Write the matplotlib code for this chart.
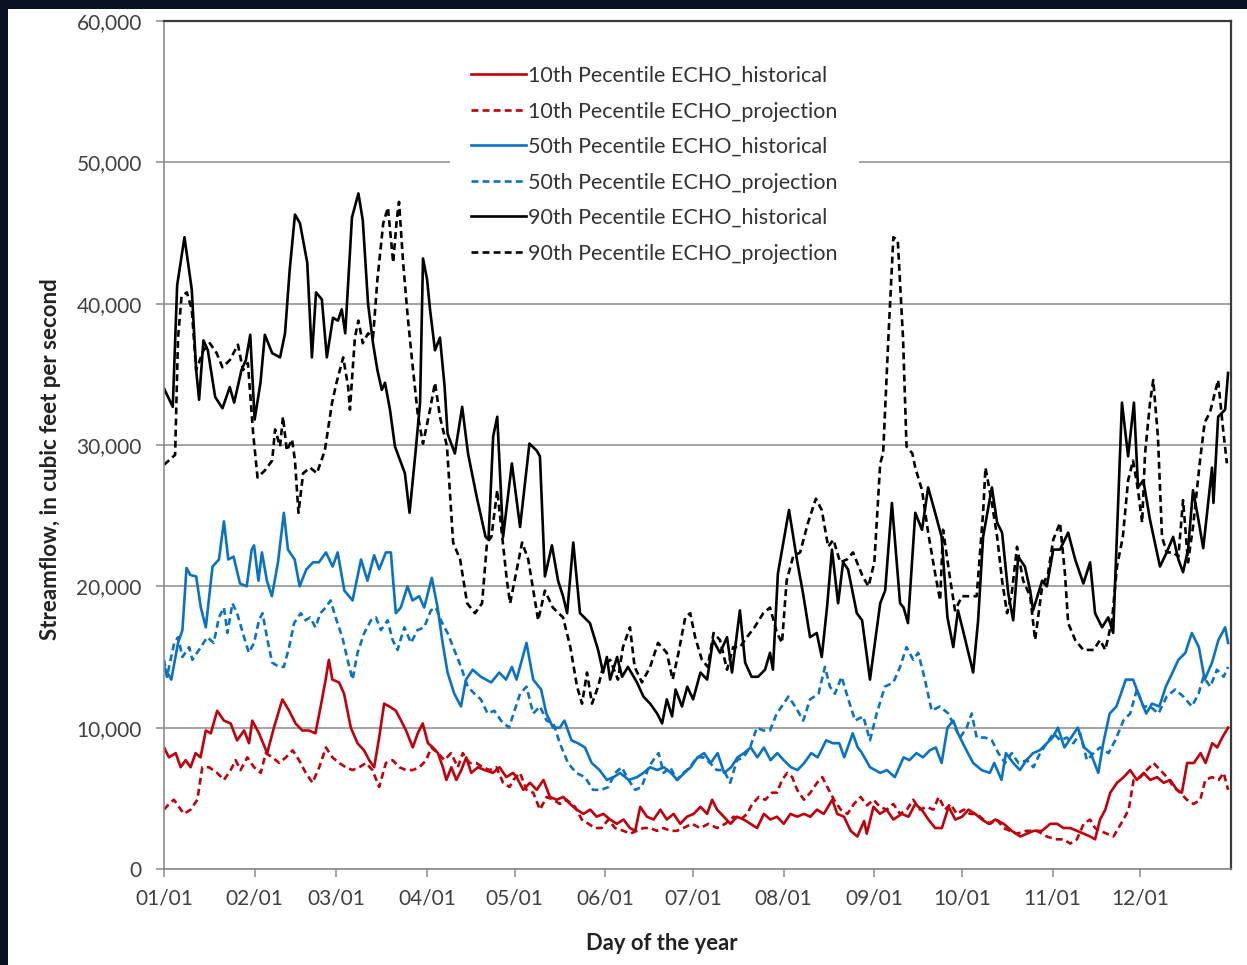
import matplotlib
matplotlib.use("Agg")
import matplotlib.pyplot as plt
from matplotlib.patches import Rectangle
import numpy as np

# Daily streamflow percentiles, ECHO gauge (values in thousand cfs, day 0 = Jan 1)
p10_hist_day = [0, 1.7, 4, 5.7, 7.4, 9.1, 10.8, 12.5, 14.3, 16, 18.2, 20.5, 22.8, 25, 27.4, 29.1, 30.2, 32.5, 35.3, 37.6,
                40.5, 42.8, 45, 47.3, 49.6, 51.8, 53.6, 55.3, 56.4, 57.6, 59.9, 61.6, 63.9, 66.2, 68.4, 70.2, 71.9, 73.6, 75.3, 77.1,
                79.3, 81.1, 82.8, 85.1, 86.8, 88.5, 90.3, 92, 93.7, 95.4, 96.6, 98.3, 100, 101.7, 103.4, 105.1, 107.4, 109.7, 112.5, 114.8,
                117.1, 119.4, 120.6, 122.9, 125.2, 127.5, 129.8, 132, 134.3, 136.6, 138.9, 141.2, 143.5, 145.8, 148, 150.3, 152.6, 154.9, 157.2, 159.4,
                161.2, 162.9, 165.2, 167.5, 169.8, 172, 174.3, 176.6, 178.9, 181.2, 183.5, 185.8, 187.5, 189.2, 191.5, 193.8, 196, 198.3, 200.6, 202.9,
                205.2, 207.4, 209.7, 212, 214.3, 216.6, 218.9, 221.1, 223.4, 225.7, 228.6, 230.3, 232.6, 234.9, 237.2, 239.5, 240.4, 242.7, 244.9, 247.2,
                249.5, 252.4, 254.7, 257, 259.2, 261.5, 263.8, 266.1, 268.4, 270.7, 273, 275.2, 277.5, 279.8, 282.1, 284.4, 287.2, 290, 292.9, 295.2,
                297.5, 300.3, 303.2, 305.5, 307.7, 310, 312.3, 314.6, 316.8, 318.5, 320.2, 322, 323.7, 326, 328.3, 330.5, 332.8, 335.1, 337.4, 339.7,
                342, 344.2, 346.5, 348.2, 350, 352.3, 354.6, 356.3, 358.6, 360.3, 362, 364]
p10_hist = [8.6, 7.9, 8.2, 7.2, 7.7, 7.2, 8.2, 7.9, 9.8, 9.6, 11.2, 10.5, 10.3, 9.1, 9.8, 8.9, 10.5, 9.6, 8.2, 10.0,
            12.0, 11.2, 10.3, 9.8, 9.8, 9.6, 11.5, 13.4, 14.8, 13.4, 13.2, 12.4, 10.0, 8.9, 8.4, 7.7, 7.2, 9.3, 11.7, 11.5,
            11.2, 10.5, 9.8, 8.6, 9.6, 10.3, 8.9, 8.6, 8.2, 7.2, 6.3, 7.2, 6.3, 7.0, 7.9, 6.8, 7.2, 7.0, 6.8, 7.2,
            6.5, 6.8, 6.5, 5.6, 6.1, 5.6, 6.3, 5.1, 4.9, 5.1, 4.6, 4.2, 3.9, 4.2, 3.7, 3.9, 3.5, 3.2, 3.5, 2.9,
            2.7, 4.4, 3.7, 3.5, 4.2, 3.5, 3.9, 3.2, 3.7, 3.9, 4.4, 3.9, 4.9, 4.2, 3.7, 3.2, 3.7, 3.5, 3.2, 2.9,
            3.9, 3.5, 3.7, 3.2, 3.9, 3.7, 3.9, 3.7, 4.2, 3.9, 4.9, 3.9, 3.7, 2.7, 2.3, 3.4, 2.5, 4.4, 3.9, 4.2,
            3.5, 3.9, 3.7, 4.6, 4.2, 3.5, 2.9, 2.9, 4.4, 3.5, 3.7, 4.2, 3.9, 3.5, 3.2, 3.5, 3.2, 2.7, 2.3, 2.5,
            2.7, 2.7, 3.2, 3.2, 2.9, 2.9, 2.7, 2.5, 2.3, 2.1, 3.5, 4.2, 5.4, 6.1, 6.5, 7.0, 6.3, 6.8, 6.3, 6.5,
            6.1, 6.3, 5.6, 5.4, 7.5, 7.5, 8.2, 7.5, 8.9, 8.6, 9.3, 10.0]

p10_proj_day = [0, 1.7, 3.4, 5.1, 6.8, 9.1, 11.4, 13.1, 15.4, 18.2, 20.5, 22.8, 24.5, 26.2, 28.5, 30.8, 33.1, 34.8, 37.1, 39.4,
                41.7, 44, 46.2, 48.5, 50.8, 53.1, 55.4, 57.6, 59.9, 62.2, 64.5, 66.8, 69.1, 71.3, 73.6, 75.9, 78.2, 80.5, 82.8, 85.1,
                87.4, 89.7, 91.4, 93.7, 95.9, 98.2, 100.5, 102.2, 104.5, 106.8, 109.1, 111.4, 113.7, 116, 118.2, 119.5, 121.8, 124, 126.3, 128.6,
                130.9, 133.2, 135.4, 137.7, 140.6, 142.9, 145.2, 147.4, 149.7, 152, 154.3, 157.2, 159.4, 161.8, 164, 166.3, 168.6, 170.9, 173.2, 175.4,
                177.7, 180.6, 183.4, 186.3, 189.2, 192, 194.9, 197.2, 199.5, 201.2, 203.5, 205.7, 208, 209.7, 211.4, 213.2, 214.9, 216.6, 218.9, 221.1,
                223.4, 225.2, 226.9, 229.2, 231.5, 233.8, 236, 238.3, 240.5, 242.7, 244.9, 247.2, 249.5, 251.8, 254.1, 256.3, 258.6, 260.9, 263.2, 265,
                267.2, 269, 271.2, 273.6, 275.7, 278, 280.3, 282.6, 284.9, 287.2, 289.4, 291.7, 295.1, 298.6, 302, 304.9, 307.7, 310, 312.3, 314.6,
                316.8, 318.5, 320.2, 322.5, 324.8, 326.5, 328.2, 330, 331.7, 334, 336.2, 338.5, 340.8, 343.1, 345.4, 347.6, 349.9, 352.2, 354.5, 356.2,
                358.5, 360.8, 362.5, 364]
p10_proj = [4.2, 4.6, 4.9, 4.4, 3.9, 4.2, 4.9, 7.2, 7.2, 6.8, 6.3, 7.0, 7.7, 7.0, 7.9, 7.2, 6.8, 8.2, 7.9, 7.5,
            7.9, 8.4, 7.7, 6.8, 6.1, 7.2, 8.6, 7.9, 7.5, 7.2, 7.0, 7.2, 7.5, 7.0, 5.8, 7.5, 7.7, 7.2, 7.0, 7.0,
            7.2, 7.7, 8.6, 8.2, 7.7, 8.2, 7.2, 8.2, 7.5, 7.5, 7.2, 7.0, 7.2, 6.1, 5.8, 6.3, 6.8, 5.6, 5.4, 4.2,
            5.1, 4.9, 4.6, 4.9, 4.4, 3.5, 3.2, 2.9, 2.9, 3.5, 2.9, 2.7, 2.5, 2.7, 2.9, 2.9, 2.7, 2.9, 2.7, 2.7,
            2.9, 3.2, 2.9, 3.2, 2.9, 3.2, 3.7, 3.5, 3.9, 4.6, 5.1, 4.9, 5.4, 5.4, 6.3, 6.8, 6.5, 5.6, 4.9, 5.4,
            6.1, 6.5, 5.8, 4.9, 4.2, 3.9, 4.6, 5.1, 4.5, 4.9, 4.4, 4.2, 4.6, 3.9, 4.2, 4.9, 4.2, 4.4, 4.2, 5.1,
            4.2, 4.6, 3.9, 4.2, 3.9, 3.9, 3.5, 3.2, 3.5, 2.9, 2.7, 2.5, 2.7, 2.7, 2.3, 2.1, 2.1, 1.8, 2.1, 3.2,
            3.5, 2.9, 2.7, 2.5, 2.3, 2.9, 3.5, 4.2, 6.3, 6.5, 7.0, 7.5, 7.0, 6.5, 5.8, 5.4, 4.9, 4.6, 4.9, 6.3,
            6.5, 6.3, 6.8, 5.6]

p50_hist_day = [0, 2.5, 4.8, 6.3, 7.7, 9, 11, 12.6, 14.3, 16.6, 18.8, 20.5, 22, 23.8, 26, 28.3, 30, 30.8, 32.3, 33.5,
                35.2, 36.9, 39, 41, 42.4, 44.7, 46.4, 48.7, 51, 53, 55.4, 57.7, 59.4, 61.7, 64.5, 67.4, 69.6, 71.9, 73.6, 75.9,
                77.6, 79.3, 81, 83.3, 85, 87.3, 89, 91.6, 93.6, 95.3, 97, 99.3, 101.6, 103.3, 105.6, 108.4, 111.9, 114.7, 117, 119,
                120.6, 124, 126.3, 129, 130.8, 133.1, 135.4, 137, 139.4, 141.6, 144, 146.3, 149, 151.5, 153.8, 156, 159, 161.8, 164, 166.3,
                168.7, 171, 173.4, 175.6, 178, 180.2, 182.5, 184.8, 187, 189.4, 191.6, 194, 196.2, 198.4, 200.7, 203, 205.2, 207.5, 209.8, 212,
                214.5, 216.7, 219, 221.4, 223.6, 226.5, 228.8, 231, 232.7, 235.6, 237.3, 238.5, 241.5, 245, 247.3, 250, 253, 255, 257.4, 259.6,
                262, 264, 266, 268, 270, 271.6, 274, 276.8, 279.7, 282.5, 284, 286.5, 288, 290.5, 292.8, 295, 297.3, 299.6, 302, 304,
                305.8, 308, 310.3, 312.6, 314.8, 317, 319.6, 321.3, 323.5, 325.8, 327, 329, 331.5, 333.7, 336, 338, 340.5, 342.7, 345, 347,
                349.4, 351.6, 354, 356, 358.5, 360.7, 363, 364]
p50_hist = [14.3, 13.4, 16.0, 16.9, 21.3, 20.8, 20.7, 18.5, 17.1, 21.4, 21.9, 24.6, 21.9, 22.1, 20.2, 20.0, 22.6, 22.9, 20.4, 22.4,
            20.4, 19.3, 21.7, 25.2, 22.6, 21.9, 20.0, 21.2, 21.7, 21.7, 22.4, 21.4, 22.4, 19.7, 19.0, 21.9, 20.4, 22.2, 21.2, 22.4,
            22.4, 18.1, 18.5, 20.0, 19.0, 19.3, 18.5, 20.6, 18.5, 16.0, 13.9, 12.4, 11.5, 13.4, 14.1, 13.6, 13.2, 13.9, 13.4, 14.3,
            13.4, 16.0, 13.4, 12.7, 11.0, 10.0, 10.0, 10.5, 9.1, 8.9, 8.6, 7.5, 7.0, 6.3, 6.5, 6.8, 6.3, 6.5, 6.8, 7.2,
            7.0, 7.2, 6.8, 6.3, 6.8, 7.2, 7.9, 8.2, 7.5, 8.2, 6.8, 7.2, 7.9, 8.2, 8.6, 7.9, 8.6, 7.7, 8.2, 7.7,
            7.2, 7.0, 7.5, 8.2, 7.9, 9.1, 8.9, 8.9, 7.9, 9.6, 8.6, 8.3, 7.2, 6.8, 7.0, 6.5, 7.9, 7.7, 8.2, 7.9,
            8.4, 8.6, 7.5, 10.0, 10.5, 9.6, 8.6, 7.5, 7.0, 6.8, 7.5, 6.3, 8.2, 7.5, 7.0, 7.7, 8.2, 8.4, 8.9, 9.3,
            10.0, 8.6, 9.3, 10.0, 8.6, 8.2, 6.8, 8.9, 11.0, 11.5, 12.2, 13.4, 13.4, 12.2, 11.0, 11.7, 11.5, 12.9, 13.9, 14.8,
            15.3, 16.7, 15.7, 13.4, 14.6, 16.2, 17.1, 16.0]

p50_proj_day = [0, 1, 3.5, 4.8, 6.3, 8.6, 9.7, 12.6, 14.8, 17, 18.8, 20.5, 21.7, 23.4, 25, 27.4, 29, 30.8, 32.5, 33.7,
                35.4, 37, 39.4, 41, 42.8, 44.5, 46.8, 48.4, 50, 51.8, 53.5, 55.3, 57, 58.7, 61, 62.8, 64.5, 66.2, 68.5, 70.8,
                72.5, 74.2, 76.5, 78.2, 79.9, 82.2, 84.5, 86.7, 89, 91.3, 93, 94.7, 97, 99.3, 101.6, 103.9, 106.2, 108.4, 110.7, 113,
                115.3, 118, 121.8, 124, 126.3, 128.6, 130.9, 133.2, 135.4, 138.2, 141, 144, 146.8, 149.6, 152, 154.3, 156.6, 158.9, 161.2, 163.4,
                165.8, 168, 169.2, 170.9, 173.2, 175.4, 177.7, 180, 182.2, 184.5, 186.8, 189.1, 191.4, 193.7, 196, 198.2, 200.5, 202.8, 205, 207.3,
                209.6, 211.3, 213.6, 215.9, 218.7, 221, 223.9, 226.1, 227.8, 229.5, 231.8, 234.1, 236.4, 239.2, 241.5, 243.8, 246.6, 249.5, 251.8, 254,
                256.3, 258, 260.3, 262.6, 265.4, 268.3, 270.6, 272.3, 274.6, 276.3, 278, 280.9, 283.2, 285.4, 287.7, 290, 292.3, 295.2, 297.4, 299.7,
                302, 304.3, 306.6, 308.8, 311.1, 313.4, 315.7, 318, 320.2, 323.1, 325.4, 328.2, 330.5, 332.8, 335, 337.3, 340.2, 343, 345.9, 348.7,
                351.6, 353.9, 355.6, 357.9, 360.2, 362.5, 364]
p50_proj = [14.8, 13.6, 16.0, 16.4, 15.0, 15.7, 14.8, 15.7, 16.4, 16.0, 17.8, 18.5, 16.7, 18.8, 18.1, 16.4, 15.3, 16.0, 17.6, 18.1,
            16.2, 14.6, 14.3, 14.3, 15.7, 17.4, 18.1, 17.6, 17.8, 17.1, 18.1, 18.5, 19.0, 17.8, 16.4, 14.8, 13.4, 15.3, 16.7, 17.6,
            17.8, 16.9, 17.6, 16.2, 15.5, 17.1, 16.0, 16.9, 17.1, 18.3, 18.5, 17.6, 16.7, 15.5, 14.3, 12.9, 12.4, 12.0, 11.0, 11.2,
            10.5, 10.0, 12.4, 12.9, 11.0, 11.5, 10.5, 10.3, 8.9, 7.5, 6.8, 6.5, 5.6, 5.6, 5.8, 6.8, 7.2, 6.3, 5.6, 5.8,
            7.2, 7.9, 8.2, 6.8, 7.2, 6.3, 6.8, 7.2, 7.9, 7.9, 7.5, 7.0, 7.0, 6.1, 7.7, 7.9, 8.6, 10.0, 9.8, 9.8,
            11.0, 11.5, 12.2, 11.5, 10.5, 12.0, 12.4, 14.3, 12.9, 12.4, 13.6, 12.0, 10.5, 10.8, 9.1, 11.0, 12.9, 13.2, 14.3, 15.7,
            14.8, 15.3, 13.4, 11.2, 11.5, 11.0, 10.0, 9.3, 10.0, 11.0, 9.3, 9.3, 9.1, 8.2, 7.5, 8.2, 7.5, 7.7, 7.2, 8.2,
            8.9, 9.6, 9.1, 9.3, 8.9, 9.6, 7.7, 8.2, 8.6, 8.2, 9.1, 10.5, 11.0, 12.7, 11.5, 11.5, 11.0, 12.2, 12.7, 12.2,
            11.5, 12.4, 13.6, 12.9, 14.1, 13.6, 14.3]

p90_hist_day = [0, 3, 4.5, 7, 9.5, 11, 12, 13.5, 15, 17.5, 20, 22.5, 24, 26.5, 28, 29.5, 31, 33, 34.5, 37,
                39.7, 41.4, 43, 44.8, 46.5, 49, 50.6, 52, 54, 55.7, 57.8, 59.5, 60.8, 62, 64.3, 66.5, 68, 69.8, 71.5, 73,
                74.5, 75.6, 77.3, 79, 82.4, 84, 86, 87.6, 88.6, 90, 91, 92.7, 94.4, 96, 97, 99.5, 102, 104, 107, 110,
                111, 112.6, 114, 116, 119, 121.8, 125, 127.5, 128.6, 130.3, 132.7, 134.8, 136.5, 137.9, 140, 142.3, 145.7, 148.5, 150.2, 151.5,
                152.6, 155, 156.7, 158.7, 161.8, 164, 166.3, 168.7, 170.4, 172, 173.8, 175, 177.2, 179, 181, 183.5, 185.8, 187.8, 190.2, 192.6,
                194.3, 197, 198.8, 201, 203.2, 205.6, 207.3, 208.3, 210, 213.8, 216.5, 218.6, 221, 223.3, 225, 226.8, 228.5, 230.6, 232.3, 234,
                237, 238.8, 241.5, 245, 246.7, 249, 251.8, 253, 254.5, 257, 259.3, 261.4, 263.8, 266, 268, 270, 271.6, 273.3, 276.8, 278.5,
                280.2, 283.2, 285, 286.7, 288.8, 290.5, 292.2, 294.5, 296.3, 297.3, 300.4, 302, 304.2, 306.5, 309.3, 311.7, 314.5, 316.8, 318.5, 320.9,
                323, 324.7, 327.7, 329.8, 331.8, 333.2, 335, 337.3, 340.7, 343, 345.2, 347, 348.6, 350.3, 352, 353.7, 355.5, 358.5, 359, 360.6,
                363, 364]
p90_hist = [34.0, 32.7, 41.3, 44.7, 41.0, 35.3, 33.2, 37.4, 36.7, 33.4, 32.6, 34.1, 33.0, 35.3, 36.0, 37.8, 31.8, 34.4, 37.8, 36.5,
            36.2, 37.9, 42.4, 46.3, 45.7, 42.9, 36.2, 40.8, 40.3, 36.2, 39.0, 38.8, 39.6, 37.9, 46.1, 47.8, 45.9, 40.0, 37.2, 35.3,
            33.9, 34.4, 32.5, 29.9, 28.0, 25.2, 29.4, 33.0, 43.2, 41.7, 39.6, 36.7, 37.6, 34.1, 30.8, 29.4, 32.7, 29.4, 26.3, 23.5,
            23.3, 30.6, 32.0, 23.5, 28.7, 24.2, 30.1, 29.6, 29.2, 20.7, 22.9, 20.4, 19.3, 18.1, 23.1, 18.1, 17.4, 15.5, 13.9, 15.0,
            13.4, 15.0, 13.6, 14.3, 13.2, 12.2, 11.7, 11.0, 10.3, 12.0, 10.8, 12.7, 11.5, 12.9, 12.0, 13.9, 13.4, 16.2, 15.3, 16.4,
            13.9, 18.3, 14.6, 13.6, 13.6, 14.1, 15.3, 14.1, 20.9, 25.4, 21.9, 19.5, 16.4, 16.7, 15.0, 18.5, 22.6, 18.8, 21.7, 21.2,
            18.1, 17.6, 13.4, 18.8, 19.7, 25.9, 18.8, 18.5, 17.4, 25.2, 24.0, 27.0, 25.2, 23.5, 17.8, 15.7, 18.3, 16.9, 13.9, 17.6,
            23.5, 27.0, 24.5, 23.8, 19.5, 17.6, 22.1, 21.4, 19.7, 18.3, 20.4, 20.0, 22.6, 22.6, 23.8, 21.9, 20.2, 21.7, 18.1, 17.1,
            17.8, 16.7, 33.0, 29.2, 33.0, 27.0, 27.5, 24.7, 21.4, 22.4, 23.5, 21.9, 21.0, 22.6, 26.8, 24.9, 22.7, 28.4, 25.9, 32.0,
            32.5, 35.1]

p90_proj_day = [0, 3.8, 4.8, 6, 7.8, 9.5, 11, 13.5, 15.7, 18, 20, 22.5, 25.3, 27, 28.7, 30.5, 32, 34.5, 37, 38,
                39.7, 40.7, 42, 43.8, 44.8, 46, 47.6, 50, 52.3, 55, 57.5, 59, 61.3, 63, 63.6, 65.3, 66.5, 68, 69.8, 71.5,
                73, 75, 76.6, 78.4, 79.6, 80.4, 81.8, 83.4, 85.2, 86.9, 88.6, 91, 92.7, 94.4, 96.8, 98.9, 101.3, 103.7, 106.4, 108.8,
                110.5, 112, 114, 117.3, 118.4, 122.5, 124.6, 128, 130.3, 133, 136.5, 139, 141.3, 143, 144.7, 146.4, 148.5, 150.2, 152.6, 155.3,
                157, 159.4, 161, 163.5, 166.3, 169, 172, 174, 176, 178.3, 180, 181.7, 184, 186, 188, 190.2, 192.6, 194.7, 197, 199.4,
                202, 205, 207.3, 209.7, 211.4, 213, 215.2, 217.6, 220.3, 223, 225, 227.2, 229, 231.3, 233.6, 235.7, 239, 241, 243, 245,
                246, 247.8, 249.5, 251, 252.8, 254, 256, 257, 259.3, 261.4, 263.8, 265.5, 266.5, 269, 270.6, 273, 275.7, 278, 280.2, 281,
                283.2, 285, 286.7, 288.4, 290, 291.8, 293.9, 296.3, 298, 300.4, 302.4, 304.2, 306.5, 308.2, 309.3, 311.7, 314.5, 318, 320.2, 322,
                324.3, 326, 328, 329.8, 331.5, 333.2, 334.6, 335.6, 337.3, 338.4, 340, 341.4, 343, 345.2, 347, 348.6, 350.3, 352, 354.4, 356,
                357.8, 360.6, 362.3, 363.6]
p90_proj = [28.6, 29.3, 37.6, 40.5, 40.8, 39.6, 35.3, 36.7, 37.2, 36.5, 35.5, 36.0, 37.1, 35.3, 35.8, 30.8, 27.7, 28.2, 28.9, 31.1,
            29.9, 32.0, 29.6, 30.4, 28.9, 25.2, 28.0, 28.4, 28.0, 29.6, 33.0, 34.4, 36.2, 34.1, 32.5, 37.6, 38.8, 37.2, 37.9, 37.6,
            41.7, 45.7, 46.8, 42.9, 45.9, 47.2, 42.9, 39.0, 35.3, 32.0, 30.1, 32.5, 34.4, 32.0, 29.9, 23.1, 21.9, 18.8, 18.1, 18.8,
            23.1, 23.5, 26.8, 20.4, 18.8, 23.1, 21.9, 17.6, 19.7, 18.5, 17.8, 15.7, 12.9, 11.7, 13.9, 11.7, 12.9, 14.3, 14.8, 13.4,
            15.7, 17.1, 14.3, 13.2, 14.3, 16.0, 15.3, 13.4, 15.3, 17.8, 18.1, 16.4, 14.8, 14.3, 16.7, 16.2, 14.1, 15.7, 15.7, 16.4,
            17.1, 18.1, 18.5, 16.7, 16.0, 20.4, 22.1, 22.4, 24.5, 26.2, 25.4, 22.8, 23.3, 21.7, 21.9, 22.4, 20.7, 20.0, 21.7, 28.7,
            29.4, 37.6, 44.7, 44.5, 37.6, 29.9, 29.4, 28.4, 26.8, 23.8, 20.9, 19.0, 24.0, 20.4, 18.3, 19.3, 19.3, 19.3, 25.2, 28.4,
            25.9, 23.5, 20.4, 18.1, 19.5, 22.8, 20.4, 19.3, 16.2, 20.0, 20.9, 23.3, 24.5, 20.9, 17.4, 16.2, 15.5, 15.5, 16.2, 15.5,
            17.6, 21.4, 23.5, 27.5, 28.9, 26.8, 24.5, 29.4, 33.0, 34.6, 30.6, 23.5, 22.4, 22.4, 22.1, 26.1, 21.7, 24.2, 28.9, 31.6,
            32.3, 34.6, 31.1, 28.7]

month_start = [0, 31, 59, 90, 120, 151, 181, 212, 243, 273, 304, 334]
month_labels = ["01/01", "02/01", "03/01", "04/01", "05/01", "06/01",
                "07/01", "08/01", "09/01", "10/01", "11/01", "12/01"]

RED = "#c0000b"
BLUE = "#0a72c4"
BLACK = "#000000"
DASH = (0, (2.6, 1.6))

series = [
    (p10_hist_day, p10_hist, RED, "-", "10th Pecentile ECHO_historical"),
    (p10_proj_day, p10_proj, RED, DASH, "10th Pecentile ECHO_projection"),
    (p50_hist_day, p50_hist, BLUE, "-", "50th Pecentile ECHO_historical"),
    (p50_proj_day, p50_proj, BLUE, DASH, "50th Pecentile ECHO_projection"),
    (p90_hist_day, p90_hist, BLACK, "-", "90th Pecentile ECHO_historical"),
    (p90_proj_day, p90_proj, BLACK, DASH, "90th Pecentile ECHO_projection"),
]

plt.rcParams["font.family"] = ["Lato", "DejaVu Sans"]

W, H = 1247, 965
fig = plt.figure(figsize=(W / 100, H / 100), dpi=100)
fig.patch.set_facecolor("#0a1124")
# white slide panel behind the chart
fig.add_artist(Rectangle((8 / W, 0), 1 - 8 / W, 1 - 9 / H, transform=fig.transFigure,
                         facecolor="white", edgecolor="none", zorder=-10))

ax = fig.add_axes([164 / W, 1 - 869 / H, (1231 - 164) / W, (869 - 21) / H])
ax.set_facecolor("white")

for d, v, c, ls, lab in series:
    ax.plot(d, np.array(v) * 1000, color=c, linestyle=ls, linewidth=1.9, label=lab)

ax.set_xlim(0, 365)
ax.set_ylim(0, 60000)
ax.set_yticks(np.arange(0, 60001, 10000))
ax.yaxis.set_major_formatter(matplotlib.ticker.FuncFormatter(lambda v, p: f"{int(v):,}"))
ax.set_xticks(month_start)
ax.set_xticklabels(month_labels)

ax.grid(axis="y", color="#8c8c8c", linewidth=1.1)
ax.set_axisbelow(True)
for side in ("left", "bottom"):
    ax.spines[side].set_color("#8c8c8c")
    ax.spines[side].set_linewidth(1.2)
for side in ("top", "right"):
    ax.spines[side].set_color("#3a3a3a")
    ax.spines[side].set_linewidth(1.6)

ax.tick_params(axis="both", direction="out", length=6, width=1.1, color="#8c8c8c",
               labelsize=15, labelcolor="#404040")
ax.tick_params(axis="y", pad=10)
ax.tick_params(axis="x", pad=8)

ax.set_ylabel("Streamflow, in cubic feet per second", fontsize=16, fontweight="bold",
              color="#222222")
ax.yaxis.set_label_coords(-0.0965, 0.4835)
ax.set_xlabel("Day of the year", fontsize=15.8, fontweight="bold", color="#222222")
ax.xaxis.set_label_coords(0.4667, -0.0755)

leg = ax.legend(loc="upper left", bbox_to_anchor=(0.2575, 0.985), fontsize=15.5,
                frameon=True, fancybox=False, framealpha=1.0, edgecolor="white",
                handlelength=2.55, handletextpad=0.1, labelspacing=0.72, borderpad=1.0)
leg.get_frame().set_linewidth(0)
for t in leg.get_texts():
    t.set_color("#333333")

fig.savefig("out.png", dpi=100, facecolor=fig.get_facecolor())
